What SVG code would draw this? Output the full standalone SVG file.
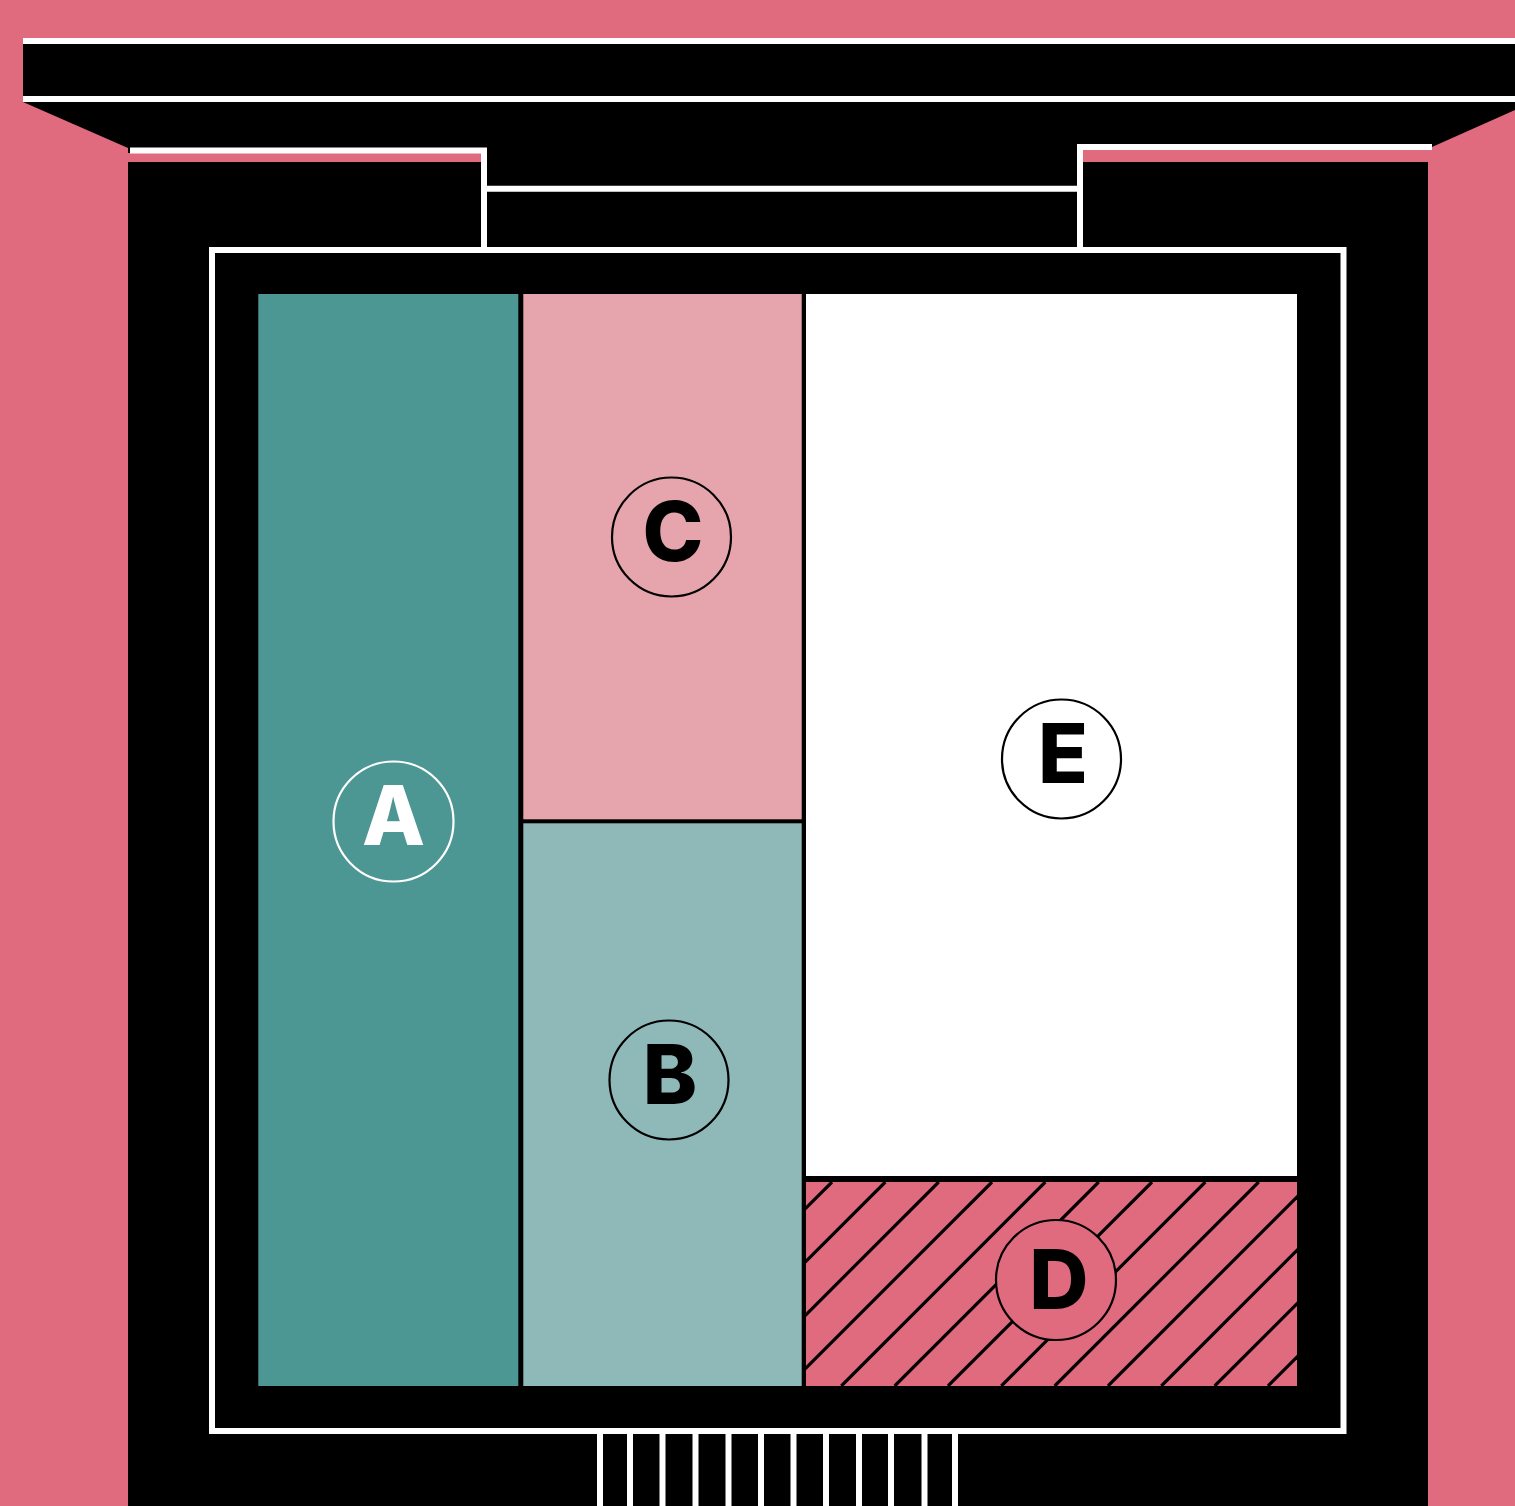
<svg xmlns="http://www.w3.org/2000/svg" width="1515" height="1506" viewBox="0 0 1515 1506">
  <style>
    .wl { fill: #FFFFFF; }
    .wstroke { fill: none; stroke: #FFFFFF; stroke-width: 6; }
    .ring { fill: none; stroke: #000000; stroke-width: 2.2; }
    .ringw { fill: none; stroke: #FFFFFF; stroke-width: 2.2; }
    .lbl { font-family: Inter, "Noto Sans", "Liberation Sans", sans-serif; font-weight: 800; font-size: 82px; text-anchor: middle; fill: #000000; }
    .hatch { stroke: #000000; stroke-width: 3.2; }
  </style>
  <defs>
    <clipPath id="dclip">
      <rect x="806" y="1182" width="491" height="204"/>
    </clipPath>
  </defs>

  <!-- background -->
  <rect x="0" y="0" width="1515" height="1506" fill="#E06A7E"/>

  <!-- building shell -->
  <g id="shell">
    <polygon points="23,38 1515,38 1515,110 1432,147 128,148 23,102" fill="#000000"/>
    <rect x="128" y="140" width="1300" height="1366" fill="#000000"/>
    <rect x="128" y="153" width="353" height="9" fill="#E06A7E"/>
    <rect x="1083" y="149" width="349" height="13" fill="#E06A7E"/>
    <rect class="wl" x="23" y="38" width="1492" height="6"/>
    <rect class="wl" x="23" y="96" width="1492" height="6"/>
    <polyline class="wstroke" points="130,150.5 484,150.5 484,247" stroke-width="5.5"/>
    <line x1="487" y1="188.7" x2="1077" y2="188.7" stroke="#FFFFFF" stroke-width="6"/>
    <polyline class="wstroke" points="1432,147 1080,147 1080,247" stroke-width="5"/>
    <rect class="wstroke" x="212" y="250" width="1131.5" height="1181"/>
  </g>

  <!-- stairs / stripes -->
  <g id="stripes" stroke="#FFFFFF" stroke-width="6">
    <line x1="600" y1="1432" x2="600" y2="1506"/>
    <line x1="630" y1="1432" x2="630" y2="1506"/>
    <line x1="662.5" y1="1432" x2="662.5" y2="1506"/>
    <line x1="695.5" y1="1432" x2="695.5" y2="1506"/>
    <line x1="728.5" y1="1432" x2="728.5" y2="1506"/>
    <line x1="761" y1="1432" x2="761" y2="1506"/>
    <line x1="793.5" y1="1432" x2="793.5" y2="1506"/>
    <line x1="826" y1="1432" x2="826" y2="1506"/>
    <line x1="859" y1="1432" x2="859" y2="1506"/>
    <line x1="891" y1="1432" x2="891" y2="1506"/>
    <line x1="924.5" y1="1432" x2="924.5" y2="1506"/>
    <line x1="955" y1="1432" x2="955" y2="1506"/>
  </g>

  <g id="room-A">
    <rect x="258.3" y="294" width="260" height="1092" fill="#4C9794"/>
    <circle class="ringw" cx="393.5" cy="821.5" r="60"/>
    <text class="lbl" x="393.5" y="845" style="fill:#FFFFFF">A</text>
  </g>

  <g id="room-C">
    <rect x="523.3" y="294" width="278.4" height="525.3" fill="#E6A5AD"/>
    <circle class="ring" cx="671.5" cy="537" r="59.5"/>
    <text class="lbl" x="673" y="561">C</text>
  </g>

  <g id="room-B">
    <rect x="523.3" y="823.3" width="278.4" height="562.7" fill="#8FB8B9"/>
    <circle class="ring" cx="669" cy="1080" r="59.5"/>
    <text class="lbl" x="670" y="1104">B</text>
  </g>

  <g id="room-E">
    <rect x="806" y="294" width="491" height="882" fill="#FFFFFF"/>
    <circle class="ring" cx="1061.5" cy="759" r="59.5"/>
    <text class="lbl" x="1063" y="783">E</text>
  </g>

  <g id="room-D">
    <rect x="806" y="1182" width="491" height="204" fill="#E06A7E"/>
    <g clip-path="url(#dclip)" class="hatch">
      <line x1="628" y1="1386" x2="832" y2="1182"/>
      <line x1="681.3" y1="1386" x2="885.3" y2="1182"/>
      <line x1="734.7" y1="1386" x2="938.7" y2="1182"/>
      <line x1="788" y1="1386" x2="992" y2="1182"/>
      <line x1="841.3" y1="1386" x2="1045.3" y2="1182"/>
      <line x1="894.7" y1="1386" x2="1098.7" y2="1182"/>
      <line x1="948" y1="1386" x2="1152" y2="1182"/>
      <line x1="1001.3" y1="1386" x2="1205.3" y2="1182"/>
      <line x1="1054.7" y1="1386" x2="1258.7" y2="1182"/>
      <line x1="1108" y1="1386" x2="1312" y2="1182"/>
      <line x1="1161.3" y1="1386" x2="1365.3" y2="1182"/>
      <line x1="1214.7" y1="1386" x2="1418.7" y2="1182"/>
      <line x1="1268" y1="1386" x2="1472" y2="1182"/>
    </g>
    <circle cx="1056" cy="1280" r="60" fill="#E06A7E" stroke="#000000" stroke-width="2.2"/>
    <text class="lbl" x="1059" y="1309">D</text>
  </g>
</svg>
